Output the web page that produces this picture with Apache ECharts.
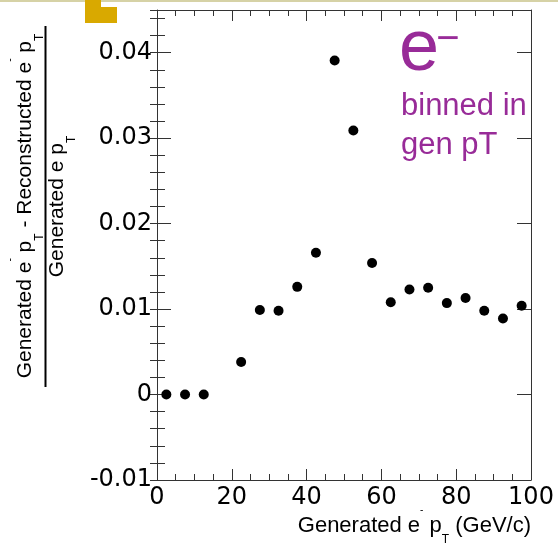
<!DOCTYPE html>
<html><head><meta charset="utf-8">
<script src="https://cdn.jsdelivr.net/npm/echarts@6/dist/echarts.min.js"></script>
<style>html,body{margin:0;padding:0;background:#fff}#c{width:558px;height:543px}</style>
</head><body><div id="c"></div>
<script>
// ---- data ----
const xValues = [2.5, 7.5, 12.5, 22.5, 27.5, 32.5, 37.5, 42.5, 47.5, 52.5, 57.5, 62.5, 67.5, 72.5, 77.5, 82.5, 87.5, 92.5, 97.5];
const yValues = [0, 0, 0, 0.0038, 0.0099, 0.0098, 0.0126, 0.0166, 0.0391, 0.0309, 0.0154, 0.0108, 0.0123, 0.0125, 0.0107, 0.0113, 0.0098, 0.0089, 0.0104];
const xTickValues = [0, 20, 40, 60, 80, 100];
const xTickLabels = ['0', '20', '40', '60', '80', '100'];
const yTickValues = [-0.01, 0, 0.01, 0.02, 0.03, 0.04];
const yTickLabels = ['-0.01', '0', '0.01', '0.02', '0.03', '0.04'];
const xTitleParts = ['Generated e', '-', ' p', 'T', ' (GeV/c)'];
const yNumParts = ['Generated e', '-', ' p', 'T', ' - Reconstructed e', '-', ' p', 'T'];
const yDenParts = ['Generated e', ' p', 'T'];
const particleLabel = ['e', '\u2212'];
const noteLines = ['binned in', 'gen pT'];

const F = 'Liberation Sans, Arial, sans-serif';
const NF = 'DejaVu Sans, sans-serif';
const PURPLE = '#982b98';
const AX = '#333';

function lookup(vals, labels, v) {
  for (let i = 0; i < vals.length; i++) if (Math.abs(vals[i] - v) < 1e-9) return labels[i];
  return '';
}

function makeRich(size) {
  return {
    n:   { fontFamily: F, fontSize: size, lineHeight: 40, fill: '#000', verticalAlign: 'middle' },
    sup: { fontFamily: F, fontSize: 10, lineHeight: 22, fill: '#000', verticalAlign: 'top' },
    sub: { fontFamily: F, fontSize: 12, lineHeight: 12, fill: '#000', verticalAlign: 'bottom' }
  };
}
function titleRich(parts, kinds) {
  return parts.map((p, i) => '{' + kinds[i] + '|' + p + '}').join('');
}

const tickCommon = (len, minorLen) => ({
  axisTick: { show: true, inside: true, length: len, lineStyle: { color: AX, width: 1 } },
  minorTick: { show: !!minorLen, splitNumber: 4, length: minorLen || 0, lineStyle: { color: AX, width: 1 } },
  splitLine: { show: false },
  minorSplitLine: { show: false }
});

const chart = echarts.init(document.getElementById('c'), null, { renderer: 'canvas' });
chart.setOption({
  animation: false,
  backgroundColor: '#fff',
  grid: { left: 157, right: 27, top: 10, bottom: 63, containLabel: false },
  xAxis: [
    Object.assign({
      type: 'value', position: 'bottom', min: 0, max: 100, interval: 20,
      axisLine: { show: true, onZero: false, lineStyle: { color: AX, width: 1 } },
      axisLabel: { show: true, margin: 6, color: '#000', fontFamily: NF, fontSize: 24,
        formatter: v => lookup(xTickValues, xTickLabels, v) }
    }, tickCommon(11, 6)),
    Object.assign({
      type: 'value', position: 'top', min: 0, max: 100, interval: 20,
      axisLine: { show: true, onZero: false, lineStyle: { color: AX, width: 1 } },
      axisLabel: { show: false }
    }, tickCommon(11, 6))
  ],
  yAxis: [
    Object.assign({
      type: 'value', position: 'left', min: -0.01, max: 0.045, interval: 0.01,
      axisLine: { show: true, onZero: false, lineStyle: { color: AX, width: 1 } },
      axisLabel: { show: true, margin: 5, color: '#000', fontFamily: NF, fontSize: 24,
        formatter: v => lookup(yTickValues, yTickLabels, v) }
    }, tickCommon(14, 0)),
    Object.assign({
      type: 'value', position: 'left', min: -0.01, max: 0.045, interval: 0.002,
      axisLine: { show: false }, axisLabel: { show: false }
    }, tickCommon(8, 0)),
    Object.assign({
      type: 'value', position: 'right', min: -0.01, max: 0.045, interval: 0.01,
      axisLine: { show: true, onZero: false, lineStyle: { color: AX, width: 1 } },
      axisLabel: { show: false }
    }, tickCommon(14, 0)),
    Object.assign({
      type: 'value', position: 'right', min: -0.01, max: 0.045, interval: 0.002,
      axisLine: { show: false }, axisLabel: { show: false }
    }, tickCommon(7, 0))
  ],
  series: [{
    type: 'scatter', xAxisIndex: 0, yAxisIndex: 0,
    symbol: 'circle', symbolSize: 10,
    itemStyle: { color: '#000', opacity: 1 },
    data: xValues.map((x, i) => [x, yValues[i]])
  }],
  graphic: [
    { type: 'rect', shape: { x: 0, y: 0, width: 558, height: 2 }, style: { fill: '#d6d2a6' }, silent: true },
    { type: 'rect', shape: { x: 85, y: 0, width: 16, height: 23 }, style: { fill: '#d9a900' }, silent: true },
    { type: 'rect', shape: { x: 100, y: 7, width: 17, height: 16 }, style: { fill: '#d9a900' }, silent: true },
    { type: 'line', shape: { x1: 45.5, y1: 26, x2: 45.5, y2: 387 }, style: { stroke: '#000', lineWidth: 2 }, silent: true },
    { type: 'text', x: 25.6, y: 206, rotation: Math.PI / 2, silent: true,
      style: { text: titleRich(yNumParts, ['n','sup','n','sub','n','sup','n','sub']), rich: makeRich(21),
        align: 'center', verticalAlign: 'middle', fontFamily: F, fontSize: 21, fill: '#000' } },
    { type: 'text', x: 57.6, y: 206.5, rotation: Math.PI / 2, silent: true,
      style: { text: titleRich(yDenParts, ['n','n','sub']), rich: makeRich(21),
        align: 'center', verticalAlign: 'middle', fontFamily: F, fontSize: 21, fill: '#000' } },
    { type: 'text', x: 531, y: 525.6, silent: true,
      style: { text: titleRich(xTitleParts, ['n','sup','n','sub','n']), rich: makeRich(22),
        align: 'right', verticalAlign: 'middle', fontFamily: F, fontSize: 22, fill: '#000' } },
    { type: 'text', x: 399, y: 50, silent: true,
      style: { text: particleLabel[0], fontFamily: F, fontSize: 72, fill: PURPLE, align: 'left', verticalAlign: 'middle' } },
    { type: 'text', x: 448, y: 40, silent: true,
      style: { text: particleLabel[1], fontFamily: F, fontSize: 40, fill: PURPLE, align: 'center', verticalAlign: 'middle' } },
    { type: 'text', x: 401, y: 106.5, silent: true,
      style: { text: noteLines[0], fontFamily: F, fontSize: 31, fill: PURPLE, align: 'left', verticalAlign: 'middle' } },
    { type: 'text', x: 401, y: 145.2, silent: true,
      style: { text: noteLines[1], fontFamily: F, fontSize: 31, fill: PURPLE, align: 'left', verticalAlign: 'middle' } }
  ]
});
</script>
</body></html>
